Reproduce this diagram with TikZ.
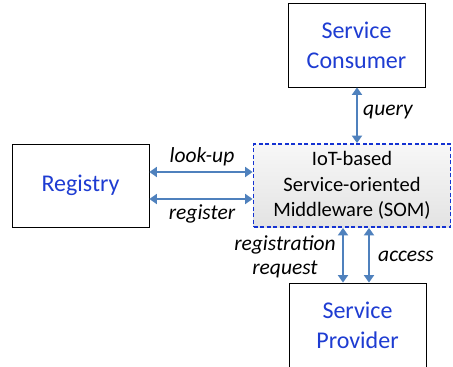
\documentclass[tikz,border=0pt]{standalone}
\usepackage{fontspec}
\setmainfont{Carlito}
\usetikzlibrary{arrows.meta}
\definecolor{txtblue}{RGB}{30,60,210}
\definecolor{arrblue}{RGB}{79,129,189}
\definecolor{dashblue}{RGB}{20,50,210}
\begin{document}
\begin{tikzpicture}[x=1pt,y=1pt,
  box/.style={draw=black,line width=0.8pt,fill=white,text=txtblue,font=\fontsize{24}{30}\selectfont,align=center,inner sep=0pt},
  som/.style={draw=dashblue,dashed,dash pattern=on 4pt off 2.5pt,line width=1.8pt,top color=gray!6,bottom color=gray!22,font=\fontsize{20.5}{25.5}\selectfont,align=center,inner sep=0pt},
  conn/.style={draw=arrblue,line width=2.6pt,{Triangle[width=10pt,length=7.5pt]}-{Triangle[width=10pt,length=7.5pt]},shorten <=0pt,shorten >=0pt},
  lbl/.style={font=\fontsize{21.5}{23.5}\selectfont\itshape,inner sep=0pt,align=center}
]
\useasboundingbox (0,0) rectangle (453,-367);
\node[box,minimum width=137pt,minimum height=84pt] (cons) at (356.5,-45) {Service\\Consumer};
\node[box,minimum width=137pt,minimum height=83pt] (reg) at (80.5,-185.5) {Registry};
\node[som,minimum width=197pt,minimum height=83pt] (som) at (352,-185.5) {IoT-based\\Service-oriented\\Middleware (SOM)};
\node[box,minimum width=137pt,minimum height=84pt] (prov) at (357.5,-325) {Service\\Provider};
\coordinate (q1) at (357,-87); \coordinate (q2) at (357,-144);
\draw[conn] (cons.south -| q1) -- (som.north -| q2);
\coordinate (l) at (0,-172); \coordinate (r) at (0,-199);
\draw[conn] (reg.east |- l) -- (som.west |- l);
\draw[conn] (reg.east |- r) -- (som.west |- r);
\coordinate (a) at (343,0); \coordinate (b) at (369,0);
\draw[conn] (som.south -| a) -- (prov.north -| a);
\draw[conn] (som.south -| b) -- (prov.north -| b);
\node[lbl,anchor=west] (lq) at (363,-112) {query};
\node[lbl] (llu) at (202,-157) {look-up};
\node[lbl] (lrg) at (202,-214) {register};
\node[lbl] (lrr) at (285,-257) {registration\\request};
\node[lbl,anchor=west] (lac) at (378,-256) {access};
\end{tikzpicture}
\end{document}
